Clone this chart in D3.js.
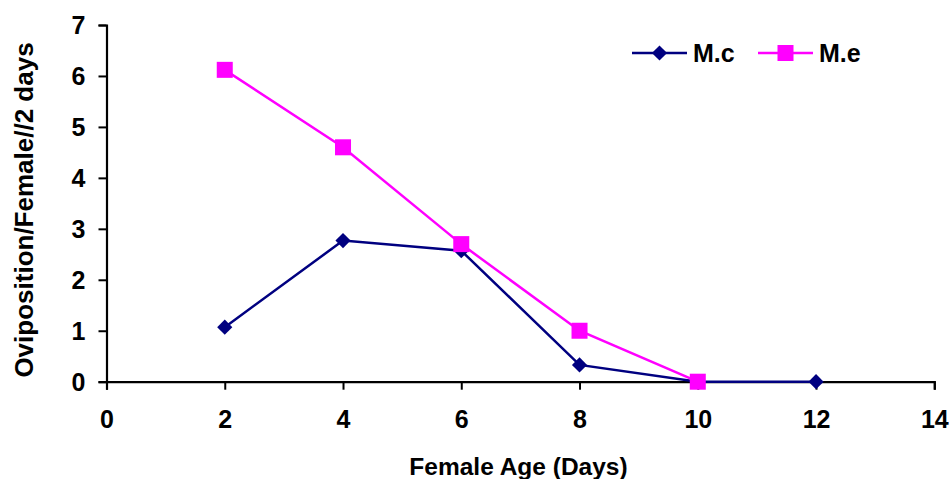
<!DOCTYPE html>
<html>
<head>
<meta charset="utf-8">
<script src="https://cdn.jsdelivr.net/npm/d3@7"></script>
<style>
  html, body { margin: 0; padding: 0; background: #fff; }
  svg { display: block; }
  text { font-family: "Liberation Sans", Arial, sans-serif; font-weight: bold; fill: #000; }
</style>
</head>
<body>
<svg id="chart" width="951" height="479"></svg>
<script>
const ages = [2, 4, 6, 8, 10, 12];
const mcValues = [1.07, 2.77, 2.57, 0.33, 0, 0];
const meAges = [2, 4, 6, 8, 10];
const meValues = [6.12, 4.6, 2.7, 1.0, 0];
const xTicks = [0, 2, 4, 6, 8, 10, 12, 14];
const yTicks = [0, 1, 2, 3, 4, 5, 6, 7];
const seriesNames = ["M.c", "M.e"];
const seriesColors = ["#000080", "#FF00FF"];

(function () {
const svg = d3.select("#chart");
const pLeft = 106.5, pRight = 934.3, pTop = 25, pBottom = 381.7;

const x = d3.scaleLinear().domain([0, 14]).range([pLeft, pRight]);
const y = d3.scaleLinear().domain([0, 7]).range([pBottom, pTop]);

const yAxis = d3.axisLeft(y).tickValues(yTicks).tickSize(8).tickPadding(13).tickFormat(d3.format("d"));
const gy = svg.append("g").attr("transform", `translate(${pLeft},0)`).call(yAxis);
const xAxis = d3.axisBottom(x).tickValues(xTicks).tickSize(8).tickPadding(21).tickFormat(d3.format("d"));
const gx = svg.append("g").attr("transform", `translate(0,${pBottom})`).call(xAxis);

[gy, gx].forEach(g => {
  g.select(".domain").attr("stroke", "#000").attr("stroke-width", 2.2);
  g.selectAll(".tick line").attr("stroke", "#000").attr("stroke-width", 2);
  g.selectAll(".tick text").style("font-size", "25px").style("font-weight", "bold")
    .style("font-family", '"Liberation Sans", Arial, sans-serif').attr("fill", "#000");
});
gy.selectAll(".tick text").attr("dy", "0.35em");

svg.append("text")
  .attr("x", 518.5)
  .attr("y", 475)
  .attr("text-anchor", "middle")
  .style("font-size", "24.5px")
  .text("Female Age (Days)");

svg.append("text")
  .attr("transform", `translate(33,210) rotate(-90)`)
  .attr("text-anchor", "middle")
  .style("font-size", "26px")
  .text("Oviposition/Female//2 days");

const line = d3.line().x(d => x(d[0])).y(d => y(d[1]));

const mcData = ages.map((a, i) => [a, mcValues[i]]);
const meData = meAges.map((a, i) => [a, meValues[i]]);

svg.append("path").datum(mcData).attr("d", line)
  .attr("fill", "none").attr("stroke", seriesColors[0]).attr("stroke-width", 2.5);
const diamond = d3.symbol().type(d3.symbolSquare).size(115);
svg.selectAll(".mc").data(mcData).enter().append("path")
  .attr("d", diamond)
  .attr("transform", d => `translate(${x(d[0])},${y(d[1])}) rotate(45)`)
  .attr("fill", seriesColors[0]);

svg.append("path").datum(meData).attr("d", line)
  .attr("fill", "none").attr("stroke", seriesColors[1]).attr("stroke-width", 2.5);
svg.selectAll(".me").data(meData).enter().append("rect")
  .attr("x", d => x(d[0]) - 8).attr("y", d => y(d[1]) - 8)
  .attr("width", 16).attr("height", 16)
  .attr("fill", seriesColors[1]);

const legend = svg.append("g");
const legendItems = [
  { name: seriesNames[0], color: seriesColors[0], x0: 632, type: "diamond" },
  { name: seriesNames[1], color: seriesColors[1], x0: 758, type: "square" }
];
const ly = 53;
legendItems.forEach(it => {
  legend.append("line").attr("x1", it.x0).attr("x2", it.x0 + 55).attr("y1", ly).attr("y2", ly)
    .attr("stroke", it.color).attr("stroke-width", 2.5);
  if (it.type === "diamond") {
    legend.append("path").attr("d", diamond)
      .attr("transform", `translate(${it.x0 + 27.5},${ly}) rotate(45)`).attr("fill", it.color);
  } else {
    legend.append("rect").attr("x", it.x0 + 27.5 - 8).attr("y", ly - 8)
      .attr("width", 16).attr("height", 16).attr("fill", it.color);
  }
  legend.append("text").attr("x", it.x0 + 61).attr("y", ly + 9)
    .style("font-size", "25px").text(it.name);
});
})();
</script>
</body>
</html>
